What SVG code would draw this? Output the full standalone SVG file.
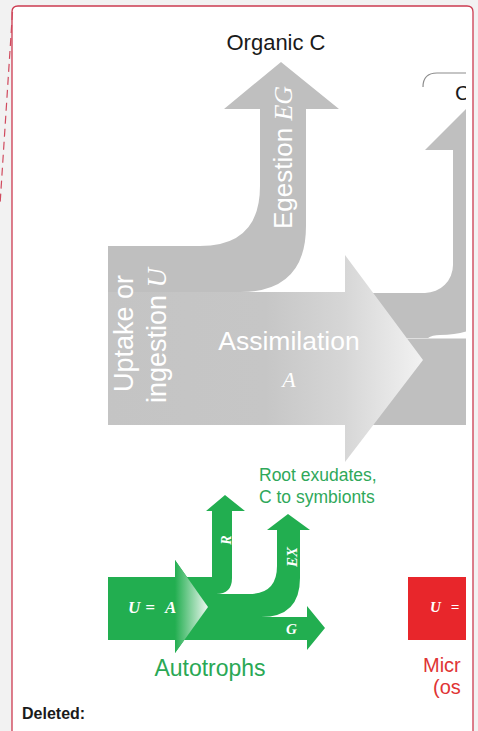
<svg xmlns="http://www.w3.org/2000/svg" width="478" height="731" viewBox="0 0 478 731">
<style>
.gray{fill:#bfbfbf}
.green{fill:#22ae50}
.sans{font-family:"Liberation Sans",Arial,sans-serif}
.wt{fill:#fff;font-family:"Liberation Sans",Arial,sans-serif}
.wm{fill:#fff;font-family:"Liberation Serif","Times New Roman",serif;font-style:italic}
.gl{fill:#fff;font-family:"Liberation Serif","Times New Roman",serif;font-style:italic;font-weight:bold}
</style>
<defs>
<clipPath id="clip"><rect x="13" y="7" width="453" height="724"/></clipPath>
<linearGradient id="ga" x1="108" y1="0" x2="423" y2="0" gradientUnits="userSpaceOnUse">
<stop offset="0" stop-color="#c4c4c4"/>
<stop offset="0.5" stop-color="#c6c6c6"/>
<stop offset="0.75" stop-color="#d6d6d6"/>
<stop offset="1" stop-color="#f2f2f2"/>
</linearGradient>
<linearGradient id="gg" x1="175" y1="0" x2="208" y2="0" gradientUnits="userSpaceOnUse">
<stop offset="0" stop-color="#22ae50"/>
<stop offset="1" stop-color="#eef8f1"/>
</linearGradient>
</defs>
<rect x="0" y="0" width="478" height="731" fill="#f2f2f2"/>
<path d="M12,740 L12,12 Q12,6 18,6 L467,6 Q473,6 473,12 L473,740" fill="#fff" stroke="#cc3b50" stroke-width="1.3"/>
<line x1="12.5" y1="12" x2="0" y2="205" stroke="#d04a5e" stroke-width="1.2" stroke-dasharray="8,5"/>

<g clip-path="url(#clip)">
<g id="respiration">
<path class="gray" d="M340,293 L425,293 A28,28 0 0 0 453,265 L453,150 L425,150 L480,95 L535,150 L497,150 L497,290 Q497,334 440,335 Q432,335 428,338 L340,338 Z"/>
</g>
<g id="growth">
<rect class="gray" x="340" y="338.5" width="140" height="86.5"/>
</g>
<g id="co2">
<path d="M423,87 Q423,73 437,73 L470,73" fill="none" stroke="#8c8c8c" stroke-width="1.2"/>
<text class="sans" x="455" y="100" font-size="21" fill="#1a1a1a">C</text>
</g>
<g id="egestion">
<path class="gray" d="M108,425 L108,246 L200,246 Q260,246 260,186 L260,109 L224,109 L281,62 L339,109 L306,109 L306,226 Q306,292 240,292 L200,292 L200,425 Z"/>
<text transform="translate(292,229) rotate(-90)" font-size="26"><tspan class="wt">Egestion </tspan><tspan class="wm">EG</tspan></text>
</g>
<g id="assimilation">
<polygon points="108,292 345,292 345,255 423,360 345,462 345,425 108,425" fill="url(#ga)"/>
<text class="wt" x="289" y="350" font-size="26.5" text-anchor="middle">Assimilation</text>
<text class="wm" x="289" y="387" font-size="22" text-anchor="middle">A</text>
</g>
<g id="uptake">
<text transform="translate(133,392) rotate(-90)" class="wt" font-size="27">Uptake or</text>
<text transform="translate(166,403) rotate(-90)" font-size="27"><tspan class="wt">ingestion </tspan><tspan class="wm">U</tspan></text>
</g>
<g id="organic-c">
<text class="sans" x="276" y="50" font-size="22" fill="#1a1a1a" text-anchor="middle">Organic C</text>
</g>

<g id="root-exudates">
<text class="sans" x="259" y="481" font-size="17.5" fill="#2fa85a">Root exudates,</text>
<text class="sans" x="259" y="503" font-size="17.5" fill="#2fa85a">C to symbionts</text>
</g>
<g id="green-R">
<path class="green" d="M175,577 L212,577 L212,511 L206,511 L225,495 L245,511 L232,511 L232,578 Q232,594 216,594 L175,594 Z"/>
<text class="gl" transform="translate(231,540) rotate(-90)" font-size="14" text-anchor="middle">R</text>
</g>
<g id="green-EX">
<path class="green" d="M175,594 L249,594 Q277,594 277,566 L277,530 L267,530 L288,514 L310,530 L300,530 L300,578 Q300,617 261,617 L175,617 Z"/>
<text class="gl" transform="translate(297,557) rotate(-90)" font-size="15" text-anchor="middle">EX</text>
</g>
<g id="green-G">
<path class="green" d="M175,617 L307,617 L307,606 L325,628 L307,650 L307,640 L175,640 Z"/>
<text class="gl" x="286" y="634" font-size="15">G</text>
</g>
<g id="green-UA">
<polygon points="108,577 175,577 175,560 208,607 175,653 175,640 108,640" class="green"/>
<polygon points="175,560 208,607 175,653" fill="url(#gg)"/>
<text class="gl" x="128" y="613" font-size="17">U</text>
<text class="gl" x="150" y="613" font-size="17" text-anchor="middle">=</text>
<text class="gl" x="165" y="613" font-size="17">A</text>
</g>
<g id="autotrophs">
<text class="sans" x="210" y="676" font-size="23" fill="#2aa855" text-anchor="middle">Autotrophs</text>
</g>
<g id="microbes">
<rect x="408" y="577" width="70" height="63" fill="#e8262b"/>
<text class="gl" x="430" y="612" font-size="15">U</text>
<text class="gl" x="455" y="612" font-size="15" text-anchor="middle">=</text>
<text class="sans" x="423" y="672" font-size="20" fill="#e03434">Micr</text>
<text class="sans" x="433" y="694" font-size="20" fill="#e03434">(os</text>
</g>
</g>
<text class="sans" x="22" y="719" font-size="16" font-weight="bold" fill="#1a1a1a">Deleted:</text>
</svg>
